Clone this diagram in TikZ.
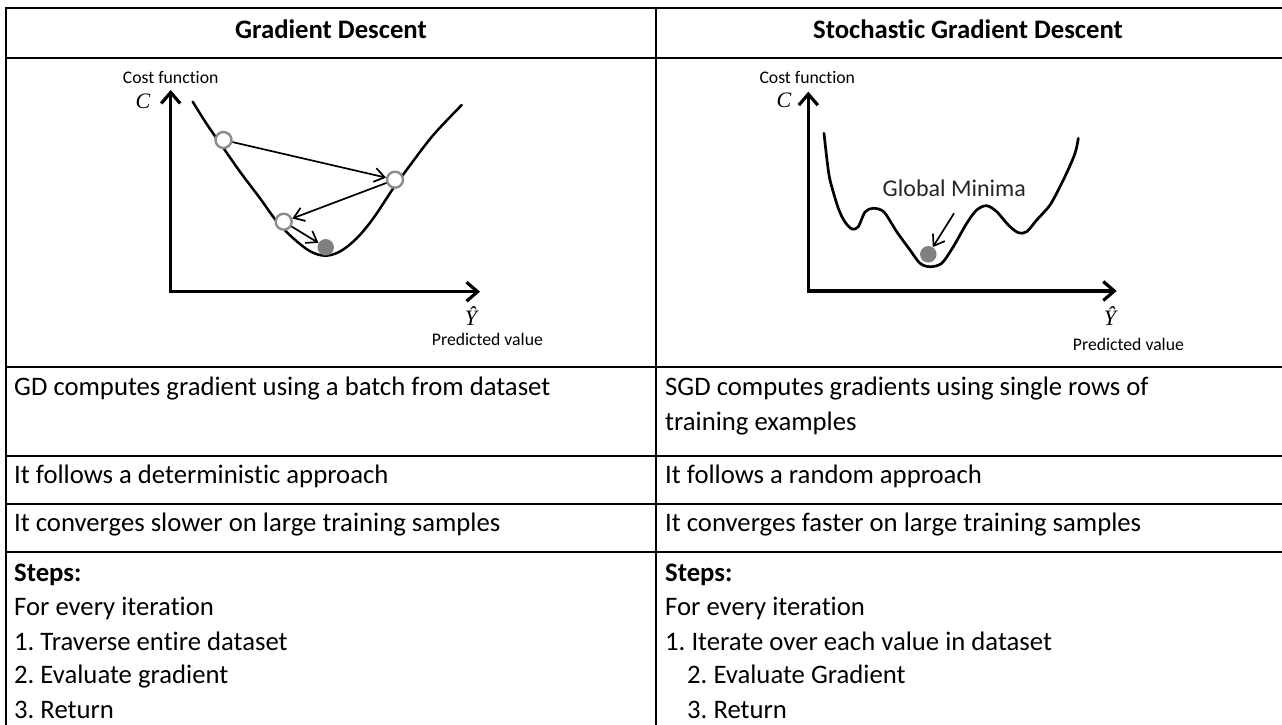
\documentclass[tikz,border=0pt]{standalone}
\usepackage{fontspec}
\setmainfont{Carlito}[Ligatures=NoCommon]
\newfontfamily\serifmath{Liberation Serif}
\usetikzlibrary{arrows.meta}

\definecolor{dotgray}{HTML}{808080}
\definecolor{ringgray}{HTML}{8C8C8C}

\begin{document}
\frenchspacing
\begin{tikzpicture}[x=1pt,y=-1pt,
  rule/.style={line width=1.6pt},
  cell/.style={anchor=base west, inner sep=0pt, font=\fontsize{26.7}{31}\selectfont},
  head/.style={anchor=base, inner sep=0pt, font=\fontsize{26.7}{31}\selectfont\bfseries},
  small/.style={anchor=base west, inner sep=0pt, font=\fontsize{17.7}{20}\selectfont},
  mathlbl/.style={inner sep=0pt, font=\serifmath\itshape\fontsize{22}{24}\selectfont},
  axis/.style={line width=3.2pt, line join=miter,
    {Straight Barb[length=11pt,width=19pt]}-{Straight Barb[length=11pt,width=19pt]}},
  curve/.style={line width=2.5pt, line join=round, line cap=round},
  step arrow/.style={line width=1.7pt, -{Straight Barb[length=10pt,width=14pt]}},
  ring/.style={circle, draw=ringgray, line width=2.4pt, fill=white,
    minimum size=16pt, inner sep=0pt},
  dot/.style={circle, fill=dotgray, minimum size=16.5pt, inner sep=0pt}
]
\useasboundingbox (0,0) rectangle (1282,725);

% ---- table rules ----
\foreach \yy in {8,58,367,456,504,552}
  \draw[rule] (5.2,\yy) -- (1282,\yy);
\draw[rule] (6,7.2) -- (6,725);
\draw[rule] (656,7.2) -- (656,725);

% ---- header ----
\node[head] (hgd)  at (331,39) {Gradient Descent};
\node[head] (hsgd) at (968,39) {Stochastic Gradient Descent};

% ---- left plot: gradient descent on a convex cost ----
\coordinate (ytop1) at (170.7,90);
\coordinate (org1)  at (170.7,291.7);
\coordinate (xend1) at (480,291.7);
\draw[axis] (ytop1) -- (org1) -- (xend1);
\node[small] (cf1) at (122.7,83.5) {Cost function};
\node[mathlbl] (cc1) at (143,101) {C};
\node[mathlbl] (yh1) at (471,316) {Ŷ};
\node[small] (pv1) at (431.7,345) {Predicted value};

\draw[curve] plot[smooth, tension=0.55] coordinates {
  (192.7,101.7) (206.7,124) (222,146) (240,171.7) (260,198.3)
  (277,221.7) (293.3,238.3) (310,251.2) (325,255.7) (340,251.5)
  (356.7,238.3) (373.3,218.3) (393.3,188.3) (411,164) (433.3,135)
  (461.7,105)};

\node[ring] (c1) at (223.5,140) {};
\node[ring] (c2) at (395,179.7) {};
\node[ring] (c3) at (283.7,221.7) {};
\node[dot]  (m1) at (325.7,247.3) {};

\draw[step arrow] (c1) -- (c2);
\draw[step arrow] (c2) -- (c3);
\draw[step arrow] (c3) -- (m1);

% ---- right plot: stochastic descent on a bumpy cost ----
\coordinate (ytop2) at (808.3,91.7);
\coordinate (org2)  at (808.3,291);
\coordinate (xend2) at (1116.7,291);
\draw[axis] (ytop2) -- (org2) -- (xend2);
\node[small] (cf2) at (759.3,83.5) {Cost function};
\node[mathlbl] (cc2) at (784,100) {C};
\node[mathlbl] (yh2) at (1110,316) {Ŷ};
\node[small] (pv2) at (1072.7,350.5) {Predicted value};

\draw[curve, line width=2.7pt] plot[smooth, tension=0.5] coordinates {
  (824,133.3) (827,160) (830,180) (838.3,208.3) (845,222) (852,229)
  (858.3,226.7) (865,212) (873.3,208.3) (884,212) (896.7,231.7)
  (910,250) (920,263.3) (930,266.7) (941.7,263.3) (953.3,246.7)
  (966.7,223.3) (976.7,210) (986.7,205.7) (996.7,211.7) (1008.3,225)
  (1018.3,232.7) (1026.7,231.7) (1036.7,220) (1050,205) (1061.7,183.3)
  (1071.7,161.7) (1076,150) (1078.3,138.3)};

\node[dot] (m2) at (928.3,254.3) {};
\node[anchor=base, inner sep=0pt, text=black!85,
  font=\fontsize{24}{26}\selectfont] (gm) at (954.3,196.7) {Global Minima};
\coordinate (gmtail) at (954,213.3);
\draw[step arrow] (gmtail) -- (m2);

% ---- text rows, left column ----
\node[cell] (l1) at (14,395) {GD computes gradient using a batch from dataset};
\node[cell] (l2) at (14,483) {It follows a deterministic approach};
\node[cell] (l3) at (14,531) {It converges slower on large training samples};
\node[cell,font=\fontsize{26.7}{31}\selectfont\bfseries] (l4) at (14,581) {Steps:};
\node[cell] (l5) at (14,615) {For every iteration};
\node[cell] (l6) at (14,650) {1. Traverse entire dataset};
\node[cell] (l7) at (14,683.5) {2. Evaluate gradient};
\node[cell] (l8) at (14,718) {3. Return};

% ---- text rows, right column ----
\node[cell] (r1a) at (665,395) {SGD computes gradients using single rows of};
\node[cell] (r1b) at (665,430) {training examples};
\node[cell] (r2) at (665,483) {It follows a random approach};
\node[cell] (r3) at (665,531) {It converges faster on large training samples};
\node[cell,font=\fontsize{26.7}{31}\selectfont\bfseries] (r4) at (665,581) {Steps:};
\node[cell] (r5) at (665,615) {For every iteration};
\node[cell] (r6) at (665,650) {1. Iterate over each value in dataset};
\node[cell] (r7) at (687,683.5) {2. Evaluate Gradient};
\node[cell] (r8) at (687,718) {3. Return};
\end{tikzpicture}
\end{document}
